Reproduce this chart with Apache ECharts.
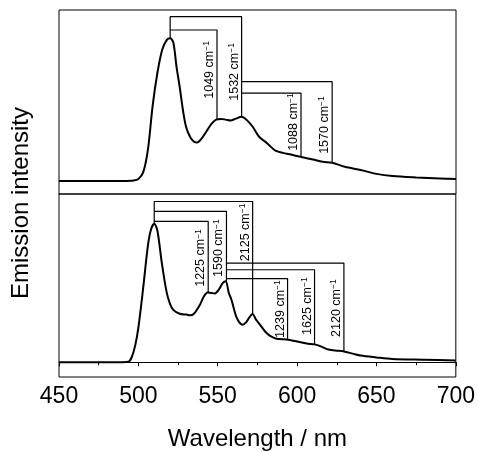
<!DOCTYPE html>
<html>
<head>
<meta charset="utf-8">
<script src="https://cdn.jsdelivr.net/npm/echarts@6/dist/echarts.min.js"></script>
<style>
  html, body { margin: 0; padding: 0; background: #fff; }
  #chart { width: 478px; height: 452px; }
</style>
</head>
<body>
<div id="chart"></div>
<script>
const FONT = '"Liberation Sans", Arial, sans-serif';

// upper spectrum (normalised, peak = 1)
const topWavelength = [450, 490, 497, 500, 503, 506, 509, 512, 515, 518, 520, 522, 524, 526, 528, 530, 532.5, 535, 537, 540, 543, 546, 549, 552, 555, 558, 561, 565, 568, 572, 576, 581, 586, 591, 596, 602, 610, 616, 622, 630, 640, 650, 660, 675, 690, 700];
const topIntensity = [0, 0, 0.003, 0.014, 0.06, 0.22, 0.53, 0.76, 0.92, 0.99, 1.0, 0.97, 0.80, 0.66, 0.50, 0.38, 0.31, 0.275, 0.27, 0.30, 0.35, 0.40, 0.43, 0.435, 0.43, 0.424, 0.435, 0.45, 0.43, 0.38, 0.31, 0.265, 0.215, 0.197, 0.185, 0.17, 0.15, 0.135, 0.128, 0.10, 0.077, 0.05, 0.035, 0.025, 0.018, 0.014];

// lower spectrum
const bottomWavelength = [450, 490, 493.7, 495.8, 498, 500, 503, 506, 508, 510, 512, 514.7, 517.8, 520, 522, 526, 530.4, 532.5, 535, 538.8, 541, 543.6, 546, 548.2, 551, 553, 555, 557, 558.7, 562, 565.7, 568, 570, 572, 574, 576.6, 580, 583, 587, 593.4, 600, 606, 611, 615, 619, 624, 629.5, 635, 640, 650, 660, 680, 700];
const bottomIntensity = [0, 0, 0.003, 0.036, 0.12, 0.249, 0.533, 0.841, 0.96, 1.0, 0.95, 0.723, 0.506, 0.42, 0.378, 0.35, 0.344, 0.339, 0.35, 0.415, 0.47, 0.504, 0.50, 0.497, 0.53, 0.57, 0.585, 0.50, 0.45, 0.32, 0.27, 0.29, 0.325, 0.348, 0.31, 0.272, 0.22, 0.19, 0.17, 0.165, 0.15, 0.135, 0.129, 0.115, 0.094, 0.085, 0.078, 0.062, 0.048, 0.035, 0.024, 0.018, 0.012];

// vibronic progression brackets [wavelength, intensity]
const topBrackets = [
  [[520, 1.0], [520, 1.151], [565, 1.151], [565, 0.451]],
  [[520, 1.058], [549.5, 1.058], [549.5, 0.432]],
  [[565, 0.696], [622, 0.696], [622, 0.128]],
  [[565, 0.615], [602.4, 0.615], [602.4, 0.17]]
];
const bottomBrackets = [
  [[510, 1.0], [510, 1.161], [572, 1.161], [572, 0.348]],
  [[510, 1.09], [555.5, 1.09], [555.5, 0.585]],
  [[510, 1.018], [544, 1.018], [544, 0.504]],
  [[555.5, 0.716], [629.5, 0.716], [629.5, 0.078]],
  [[555.5, 0.668], [611, 0.668], [611, 0.129]],
  [[555.5, 0.604], [594, 0.604], [594, 0.165]]
];

const topLabelText = ['1049', '1532', '1088', '1570'];
const topLabelX = [549.5, 565, 602.4, 622];
const topLabelY = [0.778, 0.764, 0.413, 0.392];
const bottomLabelText = ['1225', '1590', '2125', '1239', '1625', '2120'];
const bottomLabelX = [544, 555.5, 572, 594, 611, 629.5];
const bottomLabelY = [0.753, 0.824, 0.938, 0.384, 0.405, 0.391];

const zip = (xs, ys) => xs.map((x, i) => [x, ys[i]]);

function spectrumSeries(idx, xs, ys) {
  return {
    type: 'line',
    xAxisIndex: idx,
    yAxisIndex: idx,
    data: zip(xs, ys),
    smooth: 0.3,
    showSymbol: false,
    silent: true,
    lineStyle: { color: '#000', width: 2 },
    z: 3
  };
}

function bracketSeries(idx, path) {
  return {
    type: 'line',
    xAxisIndex: idx,
    yAxisIndex: idx,
    data: path,
    showSymbol: false,
    silent: true,
    lineStyle: { color: '#000', width: 1.2 },
    z: 2
  };
}

function labelSeries(idx, xs, ys, texts) {
  return {
    type: 'custom',
    xAxisIndex: idx,
    yAxisIndex: idx,
    silent: true,
    z: 5,
    data: zip(xs, ys),
    renderItem: function (params, api) {
      const pt = api.coord([api.value(0), api.value(1)]);
      return {
        type: 'text',
        x: pt[0] - 7.5,
        y: pt[1],
        rotation: Math.PI / 2,
        style: {
          text: '{n|' + texts[params.dataIndex] + ' cm}{s|\u22121}',
          align: 'center',
          verticalAlign: 'middle',
          fill: '#000',
          fontFamily: FONT,
          fontSize: 12.5,
          rich: {
            n: { fontSize: 12.5, fontFamily: FONT, fill: '#000', lineHeight: 14 },
            s: { fontSize: 8.5, fontFamily: FONT, fill: '#000', verticalAlign: 'top', lineHeight: 8 }
          }
        }
      };
    }
  };
}

const series = [
  spectrumSeries(0, topWavelength, topIntensity),
  spectrumSeries(1, bottomWavelength, bottomIntensity),
  labelSeries(0, topLabelX, topLabelY, topLabelText),
  labelSeries(1, bottomLabelX, bottomLabelY, bottomLabelText)
];
topBrackets.forEach(p => series.push(bracketSeries(0, p)));
bottomBrackets.forEach(p => series.push(bracketSeries(1, p)));

const chart = echarts.init(document.getElementById('chart'));
chart.setOption({
  animation: false,
  backgroundColor: '#fff',
  grid: [
    { left: 59, width: 397, top: 10, height: 184, show: true, borderColor: '#000', borderWidth: 1 },
    { left: 59, width: 397, top: 194, height: 186, show: true, borderColor: '#000', borderWidth: 1 },
    { left: 59, width: 397, top: 26, height: 354 }
  ],
  xAxis: [
    { gridIndex: 0, type: 'value', min: 450, max: 700, show: false },
    {
      gridIndex: 1,
      type: 'value',
      min: 450,
      max: 700,
      interval: 50,
      axisLine: { lineStyle: { color: '#000', width: 1 } },
      axisTick: { inside: false, length: 4, lineStyle: { color: '#000' } },
      minorTick: { show: true, splitNumber: 2, length: 3, lineStyle: { color: '#000' } },
      splitLine: { show: false },
      axisLabel: { fontSize: 23, color: '#000', fontFamily: FONT, margin: 8 },
      name: 'Wavelength / nm',
      nameLocation: 'middle',
      nameGap: 50,
      nameTextStyle: { fontSize: 24, color: '#000', fontFamily: FONT }
    },
    { gridIndex: 2, type: 'value', show: false }
  ],
  yAxis: [
    { gridIndex: 0, type: 'value', min: -0.0911, max: 1.198, show: false },
    { gridIndex: 1, type: 'value', min: -0.1066, max: 1.215, show: false },
    {
      gridIndex: 2,
      type: 'value',
      min: 0,
      max: 1,
      axisLine: { show: false },
      axisTick: { show: false },
      axisLabel: { show: false },
      splitLine: { show: false },
      name: 'Emission intensity',
      nameLocation: 'middle',
      nameGap: 26,
      nameTextStyle: { fontSize: 24, color: '#000', fontFamily: FONT }
    }
  ],
  series: series
});
</script>
</body>
</html>
